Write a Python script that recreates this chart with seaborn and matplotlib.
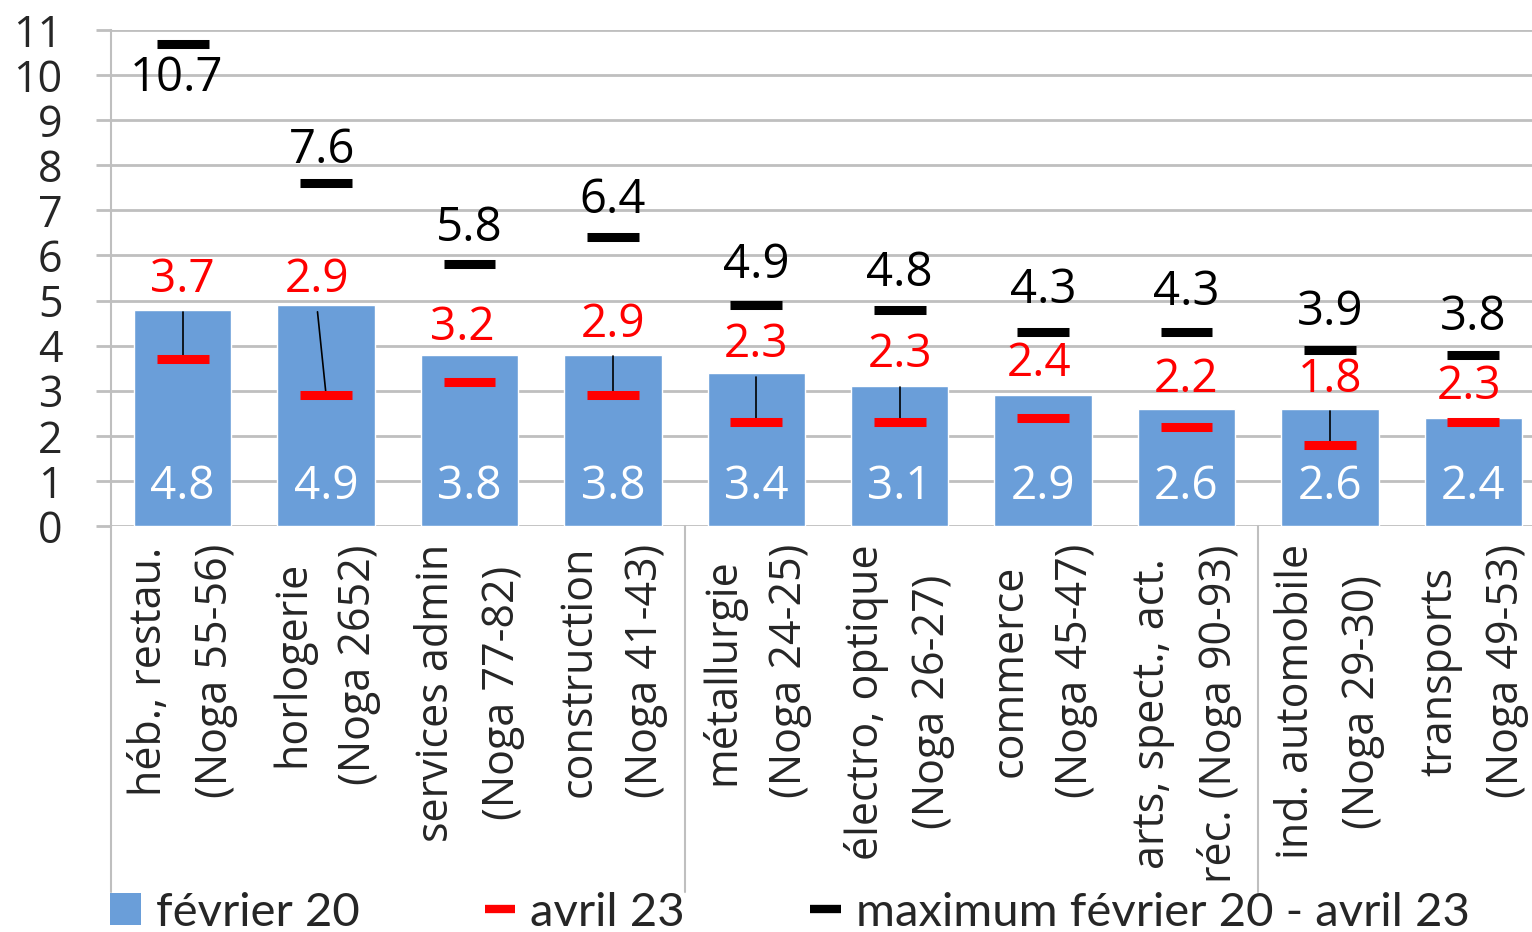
import numpy as np
import pandas as pd
import matplotlib
matplotlib.use("Agg")
import matplotlib.pyplot as plt
import matplotlib.transforms as mtransforms
from matplotlib.lines import Line2D
from matplotlib.patches import Patch
import seaborn as sns

# data
categories = [
    "héb., restau.\n(Noga 55-56)",
    "horlogerie\n(Noga 2652)",
    "services admin\n(Noga 77-82)",
    "construction\n(Noga 41-43)",
    "métallurgie\n(Noga 24-25)",
    "électro, optique\n(Noga 26-27)",
    "commerce\n(Noga 45-47)",
    "arts, spect., act.\nréc. (Noga 90-93)",
    "ind. automobile\n(Noga 29-30)",
    "transports\n(Noga 49-53)",
]
fev20 = [4.8, 4.9, 3.8, 3.8, 3.4, 3.1, 2.9, 2.6, 2.6, 2.4]
avr23 = [3.7, 2.9, 3.2, 2.9, 2.3, 2.3, 2.4, 2.2, 1.8, 2.3]
maxi = [10.7, 7.6, 5.8, 6.4, 4.9, 4.8, 4.3, 4.3, 3.9, 3.8]

# where the labels sit (layout only)
avr_label_y = [5.45, 5.45, 4.39, 4.46, 4.01, 3.79, 3.59, 3.24, 3.24, 3.08]
avr_label_dx = [0.0, -0.06, -0.05, 0.0, 0.0, 0.0, -0.03, 0.0, 0.0, -0.03]
max_label_y = [9.93, 8.34, 6.61, 7.23, 5.79, 5.61, 5.23, 5.19, 4.75, 4.63]
max_label_dx = [-0.04, -0.03, 0.0, 0.0, 0.0, 0.0, 0.0, 0.0, 0.0, 0.0]
group_breaks = [-0.5, 3.5, 7.5]

BLUE = "#6a9ed9"
GRID = "#bfbfbf"

sns.set_style("white")
plt.rcParams["font.family"] = ["Open Sans", "DejaVu Sans"]

fig = plt.figure(figsize=(15.32, 9.32), dpi=100)
ax = fig.add_axes([111 / 1532, 1 - 526 / 932, 1434 / 1532, 496 / 932])

df = pd.DataFrame({"cat": categories, "fev": fev20})
sns.barplot(data=df, x="cat", y="fev", color=BLUE, saturation=1, width=0.68, ax=ax)

x = np.arange(len(categories))
ax.hlines(avr23, x - 0.18, x + 0.18, color="red", lw=6.5, capstyle="butt", zorder=4)
ax.hlines(maxi, x - 0.18, x + 0.18, color="black", lw=6.5, capstyle="butt", zorder=4)

for i in range(len(categories)):
    ax.text(i, 0.87, f"{fev20[i]:.1f}", color="white", fontsize=33,
            ha="center", va="center", zorder=5)
    ax.text(i + avr_label_dx[i], avr_label_y[i], f"{avr23[i]:.1f}", color="red",
            fontsize=33, ha="center", va="center", zorder=5)
    ax.text(i + max_label_dx[i], max_label_y[i], f"{maxi[i]:.1f}", color="black",
            fontsize=34, ha="center", va="center", zorder=5)
    # leader lines for labels pushed away from their marker
    if avr_label_y[i] - avr23[i] > 1.3:
        ax.plot([i + avr_label_dx[i], i], [avr_label_y[i] - 0.7, avr23[i]],
                color="black", lw=1.2, zorder=3)

ax.set_xlim(-0.5, 9.5)
ax.set_ylim(0, 11)
ax.set_yticks(range(12))
ax.yaxis.grid(True, color=GRID, lw=2)
ax.set_axisbelow(True)
ax.set_xlabel("")
ax.set_ylabel("")
for s in ["top", "right", "bottom"]:
    ax.spines[s].set_visible(False)
ax.spines["left"].set_color(GRID)
ax.spines["left"].set_linewidth(1.5)

ax.tick_params(axis="y", left=True, length=11, width=2, color=GRID, pad=24, labelsize=31)
ax.tick_params(axis="x", length=0, pad=13)
ax.set_xticks(x)
ax.set_xticklabels(categories, rotation=90, ha="center", va="top",
                   multialignment="center", fontsize=31, linespacing=1.65)

# group separators below the axis
trans = mtransforms.blended_transform_factory(ax.transData, ax.transAxes)
for b in group_breaks:
    ax.plot([b, b], [0, -0.738], transform=trans, color=GRID, lw=1.5, clip_on=False)

handles = [
    Patch(facecolor=BLUE, edgecolor="none"),
    Line2D([0], [0], color="red", lw=6, solid_capstyle="butt"),
    Line2D([0], [0], color="black", lw=6, solid_capstyle="butt"),
]
labels = ["février 20", "avril 23", "maximum février 20 - avril 23"]
leg = fig.legend(handles, labels, loc="lower left", bbox_to_anchor=(91 / 1532, -0.022),
                 ncol=3, frameon=False, prop={"family": "Lato", "size": 34},
                 handlelength=0.65, handleheight=0.65, handletextpad=0.32,
                 columnspacing=2.65, borderaxespad=0)

fig.savefig("out.png", dpi=100)
